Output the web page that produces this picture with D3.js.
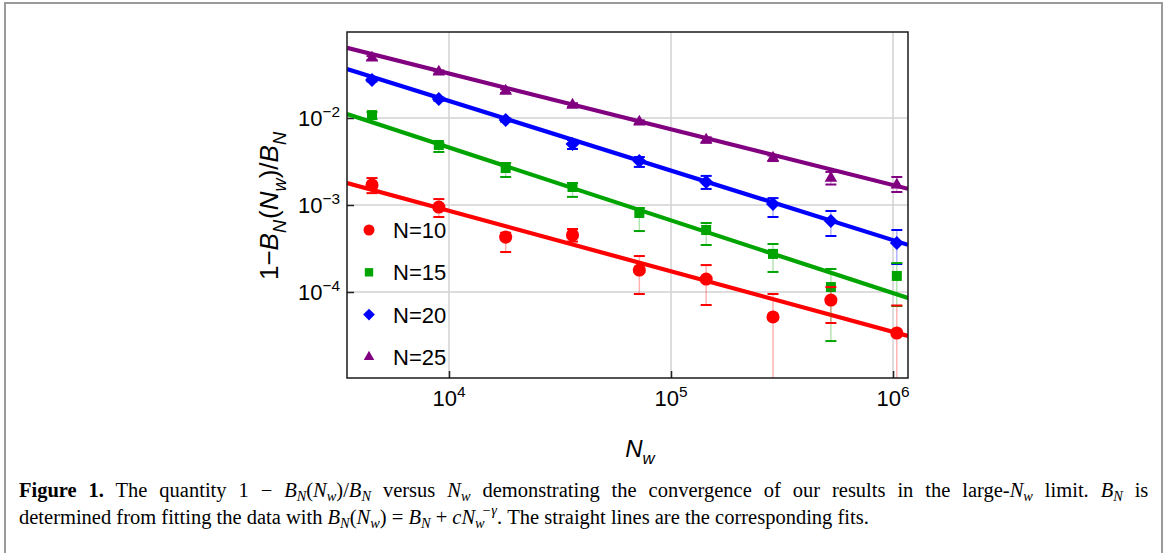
<!DOCTYPE html>
<html>
<head>
<meta charset="utf-8">
<script src="https://cdnjs.cloudflare.com/ajax/libs/d3/7.8.5/d3.min.js"></script>
<style>
    body { margin: 0; background: #fff; }
</style>
</head>
<body>
<div class="figure-wrapper"></div>
<script>
// Monte Carlo window sizes N_w
var nwValues = [4500, 9000, 18000, 36000, 72000, 144000, 288000, 525000, 1040000];

// 1 - B_N(N_w)/B_N, with lower / upper ends of the error bars
var n10 = [0.00170, 0.000948, 0.000428, 0.000452, 0.000179, 0.000141, 0.0000517, 0.0000809, 0.0000338];
var n10Hi = [0.00204, 0.00117, 0.00048, 0.00053, 0.000259, 0.000204, 0.0000948, 0.000114, 0.000070];
var n10Lo = [0.00137, 0.000728, 0.000288, 0.00038, 0.0000948, 0.0000709, 0.000001, 0.0000440, 0.000001];

var n15 = [0.0108, 0.00490, 0.00266, 0.00161, 0.00081, 0.000516, 0.000274, 0.000114, 0.000153];
var n15Hi = [0.0117, 0.00516, 0.00304, 0.00179, 0.000924, 0.000621, 0.000356, 0.000184, 0.000215];
var n15Lo = [0.00975, 0.00407, 0.00210, 0.00124, 0.000502, 0.000347, 0.000170, 0.0000273, 0.0000690];

var n20 = [0.0274, 0.0165, 0.00949, 0.00502, 0.00321, 0.00184, 0.00103, 0.000655, 0.000366];
var n20Hi = [0.0285, 0.0172, 0.0099, 0.0056, 0.00356, 0.00216, 0.00120, 0.000853, 0.000516];
var n20Lo = [0.0263, 0.0158, 0.0091, 0.0044, 0.00274, 0.00153, 0.000728, 0.000440, 0.000210];

var n25 = [0.0490, 0.0338, 0.0204, 0.0141, 0.0090, 0.00559, 0.00347, 0.00204, 0.0017];
var n25Hi = [0.0515, 0.0352, 0.0214, 0.0148, 0.0094, 0.0060, 0.0037, 0.0024, 0.0021];
var n25Lo = [0.0465, 0.0324, 0.0194, 0.0134, 0.0086, 0.0052, 0.0032, 0.00172, 0.00141];

// fits  1 - B_N(N_w)/B_N = A * N_w^-gamma
var seriesNames = ["N=10", "N=15", "N=20", "N=25"];
var fitAmp = [0.522, 10.2, 24.9, 11.9];
var fitGamma = [0.696, 0.837, 0.800, 0.641];

var xTickValues = [1e4, 1e5, 1e6];
var yTickValues = [1e-4, 1e-3, 1e-2];

var series = [
    {name: seriesNames[0], y: n10, hi: n10Hi, lo: n10Lo, amp: fitAmp[0], gamma: fitGamma[0], color: "#ff0000", shape: "circle"},
    {name: seriesNames[1], y: n15, hi: n15Hi, lo: n15Lo, amp: fitAmp[1], gamma: fitGamma[1], color: "#00a400", shape: "square"},
    {name: seriesNames[2], y: n20, hi: n20Hi, lo: n20Lo, amp: fitAmp[2], gamma: fitGamma[2], color: "#0000ff", shape: "diamond"},
    {name: seriesNames[3], y: n25, hi: n25Hi, lo: n25Lo, amp: fitAmp[3], gamma: fitGamma[3], color: "#800080", shape: "triangle"}
];

drawFigure({container: ".figure-wrapper", width: 1168, height: 553,
    margin: {top: 32, left: 347, right: 260, bottom: 175}});

//------------------------------------------------------------------
/**
 * writes text made of pieces: {t, i (italic), b (bold), sub, sup}
 */
function richText(sel, parts, baseSize, subShift) {
    var shift = 0;
    subShift = subShift || 0.3;
    parts.forEach(function (p) {
        var ts = sel.append("tspan").text(p.t);
        var target = p.sub ? baseSize * subShift : (p.sup ? -baseSize * 0.42 : 0);
        if (target !== shift) {
            ts.attr("dy", target - shift);
            shift = target;
        }
        if (p.dx) ts.attr("dx", p.dx);
        if (p.i) ts.style("font-style", "italic");
        if (p.b) ts.style("font-weight", "bold");
        if (p.sub || p.sup) ts.style("font-size", (baseSize * 0.7) + "px");
    });
}

function symbolPath(shape, big) {
    var s = big ? 1 : 0.7;
    if (shape == "circle") return d3.symbol().type(d3.symbolCircle).size(135 * s)();
    if (shape == "square") return d3.symbol().type(d3.symbolSquare).size(100 * s)();
    if (shape == "diamond") return d3.symbol().type(d3.symbolSquare).size(98 * s)();
    return d3.symbol().type(d3.symbolTriangle).size(68 * s)();
}

function drawFigure(opts) {
    var margin = opts.margin;
    var width = opts.width - margin.left - margin.right;
    var height = opts.height - margin.top - margin.bottom;
    var sans = "'Liberation Sans', Arial, sans-serif";

    var svg = d3.select(opts.container).append("svg")
            .attr("width", opts.width)
            .attr("height", opts.height)
            .style("display", "block");

    // outer figure box (runs off the bottom of the page)
    svg.append("rect")
            .attr("x", 5).attr("y", 3)
            .attr("width", 1157).attr("height", 600)
            .style("fill", "none").style("stroke", "#9a9a9a").style("stroke-width", 2);

    var x = d3.scaleLog().domain([3472, 1.168e6]).range([0, width]);
    var y = d3.scaleLog().domain([1.027e-5, 0.0974]).range([height, 0]);

    var g = svg.append("g").attr("transform", "translate(" + margin.left + "," + margin.top + ")");

    g.append("defs").append("clipPath")
            .attr("id", "plotClip")
            .append("rect")
            .attr("width", width)
            .attr("height", height);

    // grid
    g.append("g").selectAll("line")
            .data(xTickValues).enter().append("line")
            .attr("x1", function (d) { return x(d); })
            .attr("x2", function (d) { return x(d); })
            .attr("y1", 0).attr("y2", height)
            .style("stroke", "#d2d2d2").style("stroke-width", 1.5);
    g.append("g").selectAll("line")
            .data(yTickValues).enter().append("line")
            .attr("y1", function (d) { return y(d); })
            .attr("y2", function (d) { return y(d); })
            .attr("x1", 0).attr("x2", width)
            .style("stroke", "#d2d2d2").style("stroke-width", 1.5);

    // inward ticks
    var xAxis = g.append("g").attr("transform", "translate(0," + height + ")")
            .call(d3.axisBottom(x).tickValues(xTickValues).tickSize(-7).tickFormat(""));
    var yAxis = g.append("g")
            .call(d3.axisLeft(y).tickValues(yTickValues).tickSize(-7).tickFormat(""));
    [xAxis, yAxis].forEach(function (a) {
        a.select(".domain").remove();
        a.selectAll(".tick line").style("stroke", "#222").style("stroke-width", 1.5);
    });

    // tick labels as powers of ten
    xTickValues.forEach(function (v) {
        var t = g.append("text")
                .attr("x", x(v)).attr("y", height + 28)
                .attr("text-anchor", "middle")
                .style("font-family", sans)
                .style("font-size", "22px");
        richText(t, [{t: "10"}, {t: String(Math.round(Math.log10(v))), sup: true}], 22);
    });
    yTickValues.forEach(function (v) {
        var t = g.append("text")
                .attr("x", -7).attr("y", y(v) + 8)
                .attr("text-anchor", "end")
                .style("font-family", sans)
                .style("font-size", "22px");
        richText(t, [{t: "10"}, {t: "\u2212" + Math.round(-Math.log10(v)), sup: true}], 22);
    });

    // axis titles
    var xt = g.append("text")
            .attr("x", 293).attr("y", height + 79)
            .attr("text-anchor", "middle")
            .style("font-family", sans)
            .style("font-size", "24px");
    richText(xt, [{t: "N", i: true}, {t: "w", i: true, sub: true}], 24);

    var yt = g.append("text")
            .attr("transform", "translate(-69," + (height / 2 + 1) + ") rotate(-90)")
            .attr("text-anchor", "middle")
            .style("font-family", sans)
            .style("font-size", "26px");
    richText(yt, [{t: "1\u2212"}, {t: "B", i: true}, {t: "N", i: true, sub: true}, {t: "(", dx: 1},
        {t: "N", i: true}, {t: "w", i: true, sub: true}, {t: ")/"}, {t: "B", i: true}, {t: "N", i: true, sub: true}], 26);

    var plot = g.append("g").attr("clip-path", "url(#plotClip)");

    // fitted straight lines
    series.forEach(function (s) {
        var ends = x.domain().map(function (n) { return [n, s.amp * Math.pow(n, -s.gamma)]; });
        plot.append("path")
                .datum(ends)
                .attr("d", d3.line().x(function (d) { return x(d[0]); }).y(function (d) { return y(d[1]); }))
                .style("fill", "none")
                .style("stroke", s.color)
                .style("stroke-width", 4.2);
    });

    // error bars + markers, N=10 last so it sits on top
    series.slice().reverse().forEach(function (s) {
        var pts = nwValues.map(function (n, i) { return {n: n, v: s.y[i], hi: s.hi[i], lo: s.lo[i]}; });
        var eb = plot.append("g").selectAll("g").data(pts).enter().append("g");
        eb.append("line")
                .attr("x1", function (d) { return x(d.n); }).attr("x2", function (d) { return x(d.n); })
                .attr("y1", function (d) { return y(d.hi); }).attr("y2", function (d) { return y(d.lo); })
                .style("stroke", s.color).style("stroke-opacity", 0.3).style("stroke-width", 1.5);
        ["hi", "lo"].forEach(function (k) {
            eb.append("line")
                    .attr("x1", function (d) { return x(d.n) - 5.5; }).attr("x2", function (d) { return x(d.n) + 5.5; })
                    .attr("y1", function (d) { return y(d[k]); }).attr("y2", function (d) { return y(d[k]); })
                    .style("stroke", s.color).style("stroke-width", 2);
        });
        plot.append("g").selectAll("path").data(pts).enter().append("path")
                .attr("d", symbolPath(s.shape, true))
                .attr("transform", function (d) {
                    return "translate(" + x(d.n) + "," + y(d.v) + ")" + (s.shape == "diamond" ? " rotate(45)" : "");
                })
                .style("fill", s.color);
    });

    // legend
    var leg = g.append("g").attr("transform", "translate(22,198)");
    series.forEach(function (s, i) {
        var row = leg.append("g").attr("transform", "translate(0," + (i * 42.3) + ")");
        row.append("path")
                .attr("d", symbolPath(s.shape, false))
                .attr("transform", s.shape == "diamond" ? "rotate(45)" : null)
                .style("fill", s.color);
        row.append("text")
                .attr("x", 24).attr("y", 8)
                .style("font-family", sans)
                .style("font-size", "22px")
                .text(s.name);
    });

    // frame
    g.append("rect")
            .attr("width", width).attr("height", height)
            .style("fill", "none").style("stroke", "#1a1a1a").style("stroke-width", 1.5);

    // caption (first line justified)
    var cap = svg.append("g").style("font-family", "'Liberation Serif', 'Times New Roman', serif").style("font-size", "20.5px");
    var l1 = cap.append("text").attr("x", 19).attr("y", 497).style("word-spacing", "6.8px");
    richText(l1, [{t: "Figure 1.", b: true}, {t: " The quantity 1 \u2212 "}, {t: "B", i: true}, {t: "N", i: true, sub: true},
        {t: "("}, {t: "N", i: true}, {t: "w", i: true, sub: true}, {t: ")/"}, {t: "B", i: true}, {t: "N", i: true, sub: true},
        {t: " versus "}, {t: "N", i: true}, {t: "w", i: true, sub: true},
        {t: " demonstrating the convergence of our results in the large-"}, {t: "N", i: true}, {t: "w", i: true, sub: true},
        {t: " limit. "}, {t: "B", i: true}, {t: "N", i: true, sub: true}, {t: " is"}], 20.5, 0.2);
    var l2 = cap.append("text").attr("x", 19).attr("y", 524);
    richText(l2, [{t: "determined from fitting the data with "}, {t: "B", i: true}, {t: "N", i: true, sub: true},
        {t: "("}, {t: "N", i: true}, {t: "w", i: true, sub: true}, {t: ") = "}, {t: "B", i: true}, {t: "N", i: true, sub: true},
        {t: " + "}, {t: "cN", i: true}, {t: "w", i: true, sub: true}, {t: "\u2212\u03b3", i: true, sup: true, dx: -3},
        {t: ". The straight lines are the corresponding fits."}], 20.5, 0.2);
}
</script>
</body>
</html>
